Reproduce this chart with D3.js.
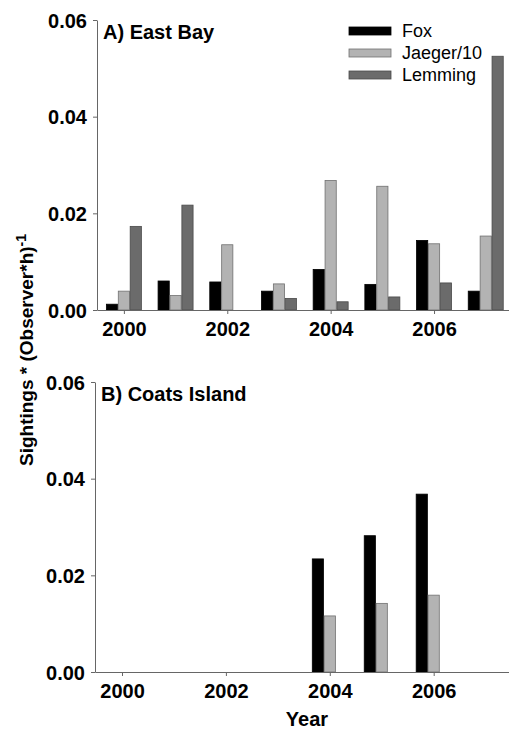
<!DOCTYPE html>
<html>
<head>
<meta charset="utf-8">
<script src="https://cdn.jsdelivr.net/npm/d3@7"></script>
<style>
  body { margin: 0; background: #fff; }
  text { font-family: "Liberation Sans", Arial, sans-serif; }
</style>
</head>
<body>
<svg id="chart" width="509" height="730"></svg>
<script>
// data
const years = [2000, 2001, 2002, 2003, 2004, 2005, 2006, 2007];
const series = ["Fox", "Jaeger/10", "Lemming"];
const yTicks = [0, 0.02, 0.04, 0.06];
const xTicks = [2000, 2002, 2004, 2006];

const eastFox = [0.0012, 0.0060, 0.0058, 0.0039, 0.0084, 0.0053, 0.0144, 0.0039];
const eastJaeger = [0.0039, 0.0030, 0.0135, 0.0054, 0.0268, 0.0256, 0.0137, 0.0153];
const eastLemming = [0.0173, 0.0217, 0, 0.0024, 0.0017, 0.0027, 0.0056, 0.0525];

const coatsFox = [null, null, null, null, 0.0234, 0.0282, 0.0368, null];
const coatsJaeger = [null, null, null, null, 0.0116, 0.0142, 0.0159, null];
const coatsLemming = [null, null, null, null, null, null, null, null];

const fills = { "Fox": "#000000", "Jaeger/10": "#b3b3b3", "Lemming": "#6b6b6b" };
const strokes = { "Fox": "#000000", "Jaeger/10": "#707070", "Lemming": "#4a4a4a" };

const svg = d3.select("#chart");

function panel(opts) {
  const x = d3.scaleLinear().domain([1999.48, 2007.45]).range([opts.left, 509]);
  const y = d3.scaleLinear().domain([0, 0.06]).range([opts.bottom, opts.top]);
  const inner = d3.scaleBand().domain(series).range([-17.5, 17.5]).paddingInner(0.06);

  const g = svg.append("g");

  // bars
  opts.values.forEach((vals, si) => {
    const name = series[si];
    g.selectAll(null)
      .data(years.map((yr, i) => ({ yr, v: vals[i] })).filter(d => d.v))
      .enter().append("rect")
      .attr("x", d => x(d.yr) + inner(name))
      .attr("width", inner.bandwidth())
      .attr("y", d => y(d.v))
      .attr("height", d => y(0) - y(d.v))
      .attr("fill", fills[name])
      .attr("stroke", strokes[name])
      .attr("stroke-width", 0.8);
  });

  // axes
  const ya = g.append("g")
    .attr("transform", `translate(${opts.left},0)`)
    .call(d3.axisLeft(y).tickValues(yTicks).tickFormat(d3.format(".2f")).tickSize(4).tickSizeOuter(0));
  const xa = g.append("g")
    .attr("transform", `translate(0,${opts.bottom})`)
    .call(d3.axisBottom(x).tickValues(xTicks).tickFormat(d3.format("d")).tickSize(4).tickSizeOuter(0));

  [ya, xa].forEach(a => {
    a.select(".domain").attr("stroke", "#666");
    a.selectAll(".tick line").attr("stroke", "#666");
    a.selectAll("text")
      .attr("fill", "#000")
      .style("font-size", "20px")
      .style("font-weight", "bold")
      .style("font-family", "'Liberation Sans', Arial, sans-serif");
  });
  ya.selectAll("text").attr("x", -10).attr("dy", "0.36em");
  xa.selectAll("text").attr("y", 10).attr("dy", "0.8em");

  g.append("text")
    .attr("x", opts.left + 6)
    .attr("y", opts.top + 19)
    .style("font-size", "20px")
    .style("font-weight", "bold")
    .text(opts.title);

  return g;
}

panel({
  title: "A) East Bay", left: 97, top: 20, bottom: 310,
  values: [eastFox, eastJaeger, eastLemming]
});
panel({
  title: "B) Coats Island", left: 95, top: 382, bottom: 672,
  values: [coatsFox, coatsJaeger, coatsLemming]
});

// legend
const legend = svg.append("g").attr("transform", "translate(349,27)");
series.forEach((s, i) => {
  const row = legend.append("g").attr("transform", `translate(0,${i * 22})`);
  row.append("rect")
    .attr("width", 42).attr("height", 8)
    .attr("fill", fills[s]).attr("stroke", strokes[s]).attr("stroke-width", 0.8);
  row.append("text")
    .attr("x", 53).attr("y", 10)
    .style("font-size", "18px")
    .text(s);
});

// axis titles
const yl = svg.append("text")
  .attr("transform", "translate(33,350) rotate(-90)")
  .attr("text-anchor", "middle")
  .style("font-size", "19px")
  .style("font-weight", "bold");
yl.append("tspan").text("Sightings * (Observer*h)");
yl.append("tspan").attr("dy", -7).style("font-size", "14px").text("-1");

svg.append("text")
  .attr("x", 307).attr("y", 726)
  .attr("text-anchor", "middle")
  .style("font-size", "20px")
  .style("font-weight", "bold")
  .text("Year");
</script>
</body>
</html>
